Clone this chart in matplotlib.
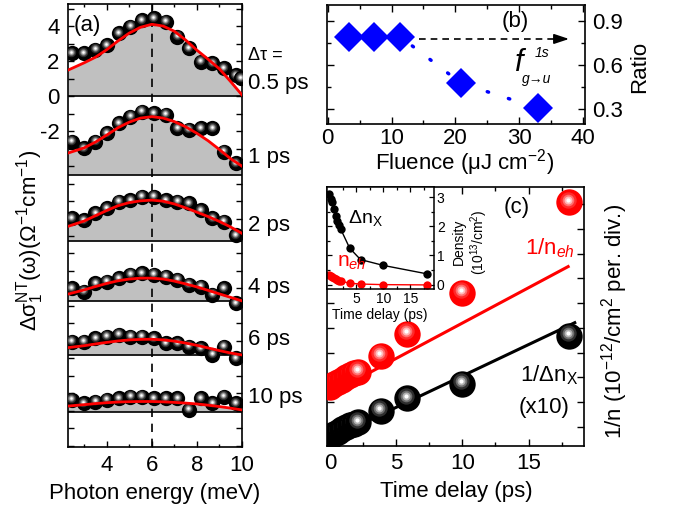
import matplotlib
matplotlib.use('Agg')
import matplotlib.pyplot as plt
from matplotlib.transforms import offset_copy
import numpy as np

plt.rcParams['font.family'] = ['Liberation Sans', 'DejaVu Sans']
plt.rcParams['mathtext.fontset'] = 'custom'
plt.rcParams['mathtext.rm'] = 'Liberation Sans'
plt.rcParams['mathtext.it'] = 'Liberation Sans:italic'
plt.rcParams['mathtext.bf'] = 'Liberation Sans:bold'
plt.rcParams['axes.unicode_minus'] = False
plt.rcParams['xtick.direction'] = 'in'
plt.rcParams['ytick.direction'] = 'in'
plt.rcParams['axes.linewidth'] = 1.2

# ---------------- panel (a) data ----------------
energy = [2.45, 2.97, 3.49, 4.01, 4.53, 5.05, 5.57, 6.09, 6.61, 7.13, 7.65, 8.17, 8.69, 9.21, 9.73]
energy_05ps = [2.45, 2.97, 3.49, 4.01, 4.53, 5.05, 5.57, 6.09, 6.61, 7.13, 7.65, 8.17, 8.69, 9.21, 9.73, 9.95]
delay_labels = ['0.5 ps', '1 ps', '2 ps', '4 ps', '6 ps', '10 ps']
sig_05 = [2.44, 2.44, 2.63, 2.91, 3.58, 3.96, 4.34, 4.44, 4.25, 3.39, 2.72, 1.96, 1.87, 1.58, 1.20, 1.01]
sig_1 = [1.90, 1.52, 1.90, 2.38, 2.95, 3.33, 3.62, 3.52, 3.43, 2.67, 2.57, 2.67, 2.67, 1.33, 0.67]
sig_2 = [1.30, 1.20, 1.58, 1.87, 2.25, 2.34, 2.53, 2.53, 2.34, 2.25, 2.15, 1.77, 1.30, 1.10, 0.34]
sig_4 = [0.72, 0.53, 1.01, 1.10, 1.30, 1.49, 1.58, 1.49, 1.39, 1.20, 0.91, 0.82, 0.34, 0.72, -0.13]
sig_6 = [0.76, 0.76, 0.95, 1.05, 1.14, 1.05, 1.05, 0.95, 0.67, 0.67, 0.48, 0.38, 0.00, 0.48, -0.19]
sig_10 = [0.67, 0.48, 0.57, 0.67, 0.76, 0.86, 0.86, 0.76, 0.76, 0.76, 0.10, 0.76, 0.48, 0.86, 0.48]
fit_energy = [2.28, 3.0, 3.5, 4.0, 4.5, 5.0, 5.5, 6.0, 6.5, 7.0, 7.5, 8.0, 8.5, 9.0, 9.5, 10.0]
fit_05 = [1.48, 1.90, 2.22, 2.65, 3.15, 3.60, 3.93, 4.10, 4.00, 3.70, 3.20, 2.62, 2.10, 1.55, 0.82, 0.06]
fit_1 = [1.25, 1.55, 1.88, 2.28, 2.70, 3.02, 3.25, 3.33, 3.25, 3.05, 2.75, 2.38, 1.95, 1.45, 0.92, 0.50]
fit_2 = [0.84, 1.15, 1.45, 1.75, 2.02, 2.20, 2.30, 2.34, 2.28, 2.12, 1.90, 1.65, 1.40, 1.12, 0.80, 0.44]
fit_4 = [0.39, 0.63, 0.82, 1.00, 1.15, 1.25, 1.30, 1.30, 1.25, 1.13, 0.97, 0.80, 0.60, 0.40, 0.20, 0.00]
fit_6 = [0.42, 0.53, 0.63, 0.72, 0.80, 0.86, 0.89, 0.90, 0.86, 0.79, 0.68, 0.55, 0.40, 0.25, 0.11, 0.00]
fit_10 = [0.32, 0.40, 0.46, 0.51, 0.55, 0.57, 0.58, 0.58, 0.56, 0.53, 0.49, 0.44, 0.37, 0.29, 0.20, 0.10]

# ---------------- panel (b) data ----------------
fluence = [3.3, 7.2, 11.4, 20.9, 33.0]
ratio = [0.79, 0.79, 0.79, 0.476, 0.307]

# ---------------- panel (c) data ----------------
t_delay = [0.0, 0.3, 0.6, 0.9, 1.2, 1.5, 1.8, 2.1, 3.8, 5.8, 10.0, 18.1]
inv_neh = [1.62, 1.72, 1.82, 1.90, 2.00, 2.10, 2.17, 2.23, 2.87, 3.75, 5.42, 9.08]
inv_dnx = [-0.40, -0.30, -0.20, -0.10, -0.03, 0.05, 0.12, 0.18, 0.65, 1.15, 1.74, 3.68]
fit_t_eh = [0.0, 18.0]
fit_inv_neh = [1.34, 6.48]
fit_t_x = [0.0, 18.5]
fit_inv_dnx = [-0.48, 4.21]
dens_x = [3.11, 2.95, 2.82, 2.60, 2.35, 2.20, 2.05, 1.92, 1.25, 0.86, 0.66, 0.37]
dens_eh = [0.33, 0.30, 0.27, 0.24, 0.20, 0.17, 0.14, 0.12, 0.05, 0.02, 0.00, -0.01]

W, H = 678, 515
fig = plt.figure(figsize=(W / 100, H / 100), dpi=100)


def fx(px):
    return px / W


def fy(py):
    return 1 - py / H


def axes_px(l, t, r, b):
    return fig.add_axes([fx(l), fy(b), fx(r) - fx(l), fy(t) - fy(b)])


BLACK_SHADES = [(0.62, '#2e2e2e'), (0.44, '#6e6e6e'), (0.30, '#b4b4b4'), (0.16, '#ffffff')]
RED_SHADES = [(0.62, '#ff2a2a'), (0.44, '#ff7070'), (0.30, '#ffbcbc'), (0.16, '#ffffff')]


def spheres(ax, xs, ys, ms, base, shades, z=3.0):
    tr = offset_copy(ax.transData, fig=fig, x=-0.05 * ms, y=0.10 * ms, units='points')
    for i, (x, y) in enumerate(zip(xs, ys)):
        zz = z + i * 0.01
        ax.plot([x], [y], ls='none', marker='o', ms=ms, mfc=base, mew=0, zorder=zz)
        for j, (frac, col) in enumerate(shades):
            ax.plot([x], [y], ls='none', marker='o', ms=ms * frac, mfc=col, mew=0,
                    transform=tr, zorder=zz + 0.001 * (j + 1))


# ================= panel (a) =================
axa = axes_px(68, 4, 242, 447)
offsets = [0.0, -4.51, -8.29, -11.71, -14.80, -18.04]
sigs = [sig_05, sig_1, sig_2, sig_4, sig_6, sig_10]
fits = [fit_05, fit_1, fit_2, fit_4, fit_6, fit_10]
for k, (off, s, f) in enumerate(zip(offsets, sigs, fits)):
    fvals = np.array(f) + off
    axa.fill_between(fit_energy, off, fvals, color='#c0c0c0', lw=0, zorder=1)
    axa.axhline(off, color='k', lw=1.2, zorder=2)
    xs = energy_05ps if k == 0 else energy
    spheres(axa, xs, np.array(s) + off, 11, 'black', BLACK_SHADES, z=3 + k)
    axa.plot(fit_energy, fvals, color='#ff0000', lw=2.0, zorder=20)
axa.axvline(6, color='k', ls=(0, (5, 4)), lw=1.2, zorder=1.5)
axa.set_xlim(2.28, 10.0)
axa.set_ylim(-20.06, 5.26)
axa.set_xticks([4, 6, 8, 10])
axa.set_xticks([3, 5, 7, 9], minor=True)
yt = list(range(-20, 6))
axa.set_yticks(yt, [str(v) if v in (4, 2, 0, -2) else '' for v in yt])
axa.tick_params(which='both', top=True, right=True, labelsize=16, width=1.0)
axa.tick_params(axis='both', which='major', length=4, pad=6)
axa.tick_params(axis='x', which='minor', length=2.5)

fig.text(fx(87), fy(25), '(a)', fontsize=16, ha='center', va='center')
fig.text(fx(248), fy(55), 'Δτ =', fontsize=13, ha='left', va='center')
for lab, py in zip(delay_labels, [83, 158, 226, 288, 340, 397]):
    fig.text(fx(248), fy(py), lab, fontsize=16, ha='left', va='center')
fig.text(fx(155), fy(493), 'Photon energy (meV)', fontsize=16, ha='center', va='center')
fig.text(fx(30), fy(240), r'Δσ$_1^{\mathrm{NT}}$(ω)(Ω$^{-1}$cm$^{-1}$)', fontsize=16,
         rotation=90, ha='center', va='center')

# ================= panel (b) =================
axb = axes_px(327, 5, 585, 124)
axb.plot(fluence, ratio, color='#0000ff', ls=(0, (0.4, 6)), lw=2.5,
         dash_capstyle='round', zorder=2)
axb.plot(fluence, ratio, ls='none', marker='D', ms=15, mfc='#0000ff', mew=0, zorder=3)
axb.plot([14.3, 36.2], [0.776, 0.776], color='k', ls=(0, (4, 3)), lw=1.2, zorder=2)
axb.annotate('', xy=(37.8, 0.776), xytext=(35.6, 0.776),
             arrowprops=dict(arrowstyle='-|>,head_length=0.9,head_width=0.3',
                             color='k', lw=1.2, shrinkA=0, shrinkB=0))
axb.set_xlim(-0.1, 40.3)
axb.set_ylim(0.2, 1.006)
axb.set_xticks([0, 10, 20, 30, 40])
axb.set_xticks([5, 15, 25, 35], minor=True)
axb.set_yticks([0.3, 0.6, 0.9])
axb.set_yticks([0.45, 0.75], minor=True)
axb.yaxis.tick_right()
axb.tick_params(which='both', top=True, left=True, right=True, labelleft=False,
                labelright=True, labelsize=16, width=1.0)
axb.tick_params(which='major', length=5, pad=5)
axb.tick_params(axis='x', which='major', pad=3)
axb.tick_params(which='minor', length=3)
fig.text(fx(515), fy(21), '(b)', fontsize=16, ha='center', va='center')
fig.text(fx(515), fy(71), 'f', fontsize=22, style='italic', ha='left', va='baseline')
fig.text(fx(535), fy(57), '1s', fontsize=10, style='italic', ha='left', va='baseline')
fig.text(fx(522), fy(83), 'g→u', fontsize=10, style='italic', ha='left', va='baseline')
fig.text(fx(465), fy(163), 'Fluence (μJ cm$^{-2}$)', fontsize=16, ha='center', va='center')
fig.text(fx(640), fy(67), 'Ratio', fontsize=16, rotation=90, ha='center', va='center')

# ================= panel (c) =================
axc = axes_px(327, 187, 584, 446)
axc.plot(fit_t_eh, fit_inv_neh, color='#ff0000', lw=2.2, zorder=2)
axc.plot(fit_t_x, fit_inv_dnx, color='black', lw=2.2, zorder=2)
spheres(axc, t_delay, inv_neh, 19, '#ff0000', RED_SHADES, z=3)
spheres(axc, t_delay, inv_dnx, 19, 'black', BLACK_SHADES, z=4)
axc.set_xlim(-0.25, 19.2)
axc.set_ylim(-0.78, 9.70)
axc.set_xticks([0, 5, 10, 15])
axc.set_xticks([2.5, 7.5, 12.5, 17.5], minor=True)
axc.set_yticks(range(0, 10), [''] * 10)
axc.tick_params(which='both', top=True, right=True, labelsize=16, width=1.0)
axc.tick_params(which='major', length=5, pad=5)
axc.tick_params(which='minor', length=3)
fig.text(fx(517), fy(207), '(c)', fontsize=16, ha='center', va='center')
fig.text(fx(525), fy(254), '1/n$_{eh}$', fontsize=16, color='#ff0000', ha='left', va='baseline')
fig.text(fx(520), fy(381), '1/Δn$_{\\mathrm{X}}$', fontsize=16, ha='left', va='baseline')
fig.text(fx(544), fy(408), '(x10)', fontsize=16, ha='center', va='center')
fig.text(fx(456), fy(492), 'Time delay (ps)', fontsize=16, ha='center', va='center')
fig.text(fx(615), fy(321), '1/n (10$^{-12}$/cm$^{2}$ per. div.)', fontsize=16,
         rotation=90, ha='center', va='center')

# ---- inset ----
axi = axes_px(327, 187, 434, 289)
axi.set_facecolor('white')
axi.plot(t_delay, dens_x, color='black', lw=1.0, marker='o', ms=6, mew=0, zorder=3)
axi.plot(t_delay, dens_eh, color='#ff0000', lw=1.0, marker='o', ms=6, mew=0, zorder=2)
axi.set_xlim(-0.4, 19.4)
axi.set_ylim(-0.15, 3.35)
axi.set_xticks([5, 10, 15])
axi.set_xticks([2.5, 7.5, 12.5, 17.5], minor=True)
axi.set_yticks([0, 1, 2, 3])
axi.set_yticks([0.5, 1.5, 2.5], minor=True)
axi.yaxis.tick_right()
axi.tick_params(which='both', top=True, left=True, right=True, labelleft=False,
                labelright=True, labelsize=10, width=0.9)
axi.tick_params(which='major', length=3.5, pad=2)
axi.tick_params(which='minor', length=2)
for sp in axi.spines.values():
    sp.set_linewidth(1.1)
fig.text(fx(380), fy(315), 'Time delay (ps)', fontsize=10, ha='center', va='center')
fig.text(fx(471), fy(242), 'Density\n(10$^{13}$/cm$^{2}$)', fontsize=10, rotation=90,
         ha='center', va='center', multialignment='center')
fig.text(fx(348), fy(223), 'Δn$_{\\mathrm{X}}$', fontsize=14, ha='left', va='baseline')
fig.text(fx(337), fy(267), 'n$_{eh}$', fontsize=15, color='#ff0000', ha='left', va='baseline')

fig.savefig('out.png', dpi=100)
